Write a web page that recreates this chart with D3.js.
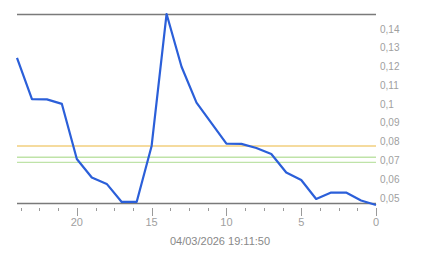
<!DOCTYPE html>
<html>
<head>
<meta charset="utf-8">
<script src="https://cdn.jsdelivr.net/npm/d3@7"></script>
<style>
  body { margin: 0; background: #fff; }
  text { font-family: "Liberation Sans", Arial, sans-serif; }
</style>
</head>
<body>
<script>
// hours back (24 .. 0) and readings
var hours = [24, 23, 22, 21, 20, 19, 18, 17, 16, 15, 14, 13, 12, 11, 10, 9, 8, 7, 6, 5, 4, 3, 2, 1, 0];
var values = [0.1246, 0.1026, 0.1025, 0.1001, 0.0708, 0.0609, 0.0575, 0.0479, 0.0479, 0.0777,
              0.148, 0.1199, 0.1008, 0.0899, 0.0790, 0.0788, 0.0766, 0.0734, 0.0636, 0.0596,
              0.0495, 0.0529, 0.0529, 0.0487, 0.0463];
var refLines = [0.0777, 0.0717, 0.0690];
var refColors = ["#f2cf7e", "#bfe3a8", "#bfe3a8"];
var yTicks = [0.05, 0.06, 0.07, 0.08, 0.09, 0.1, 0.11, 0.12, 0.13, 0.14];
var xMajor = [20, 15, 10, 5, 0];
var xMinor = [23.75, 22.5, 21.25, 18.75, 17.5, 16.25, 13.75, 12.5, 11.25, 8.75, 7.5, 6.25, 3.75, 2.5, 1.25];
var yBounds = [0.04734, 0.14799];
var title = "04/03/2026 19:11:50";

var width = 443, height = 258;
var svg = d3.select("body").append("svg")
    .attr("width", width)
    .attr("height", height);

var x = d3.scaleLinear().domain([24, 0]).range([17, 376]);
var y = d3.scaleLinear().domain(yBounds).range([203, 14]);

// reference lines
svg.selectAll(".ref")
    .data(refLines)
    .enter()
    .append("line")
    .attr("x1", x(24)).attr("x2", x(0))
    .attr("y1", function (d) { return y(d); })
    .attr("y2", function (d) { return y(d); })
    .attr("stroke", function (d, i) { return refColors[i]; })
    .attr("stroke-width", 1.3);

// top / bottom bounds
svg.selectAll(".bound")
    .data(yBounds)
    .enter()
    .append("line")
    .attr("x1", x(24)).attr("x2", x(0))
    .attr("y1", function (d) { return Math.round(y(d)) + 0.5; })
    .attr("y2", function (d) { return Math.round(y(d)) + 0.5; })
    .attr("stroke", "#7a7a7a")
    .attr("stroke-width", 1.3);

// y labels
svg.selectAll(".ylab")
    .data(yTicks)
    .enter()
    .append("text")
    .attr("x", 380)
    .attr("y", function (d) { return y(d); })
    .attr("dy", "0.35em")
    .attr("font-size", "10px")
    .attr("fill", "#a0a0a0")
    .text(function (d) { return String(d).replace(".", ","); });

// x ticks
svg.selectAll(".minor")
    .data(xMinor)
    .enter()
    .append("line")
    .attr("x1", function (d) { return Math.round(x(d)) + 0.5; })
    .attr("x2", function (d) { return Math.round(x(d)) + 0.5; })
    .attr("y1", 208).attr("y2", 211)
    .attr("stroke", "#9a9a9a");

svg.selectAll(".major")
    .data(xMajor)
    .enter()
    .append("line")
    .attr("x1", function (d) { return Math.round(x(d)) + 0.5; })
    .attr("x2", function (d) { return Math.round(x(d)) + 0.5; })
    .attr("y1", 208).attr("y2", 216)
    .attr("stroke", "#9a9a9a");

svg.selectAll(".xlab")
    .data(xMajor)
    .enter()
    .append("text")
    .attr("x", function (d) { return x(d); })
    .attr("y", 222)
    .attr("dy", "0.35em")
    .attr("text-anchor", "middle")
    .attr("font-size", "11px")
    .attr("fill", "#a0a0a0")
    .text(function (d) { return d; });

svg.append("text")
    .attr("x", 220)
    .attr("y", 241)
    .attr("dy", "0.35em")
    .attr("text-anchor", "middle")
    .attr("font-size", "11px")
    .attr("fill", "#888")
    .text(title);

// series
var line = d3.line()
    .x(function (d, i) { return x(hours[i]); })
    .y(function (d) { return y(d); });

svg.append("path")
    .datum(values)
    .attr("d", line)
    .attr("fill", "none")
    .attr("stroke", "#2b5fd9")
    .attr("stroke-width", 2.2)
    .attr("stroke-linejoin", "round");
</script>
</body>
</html>
